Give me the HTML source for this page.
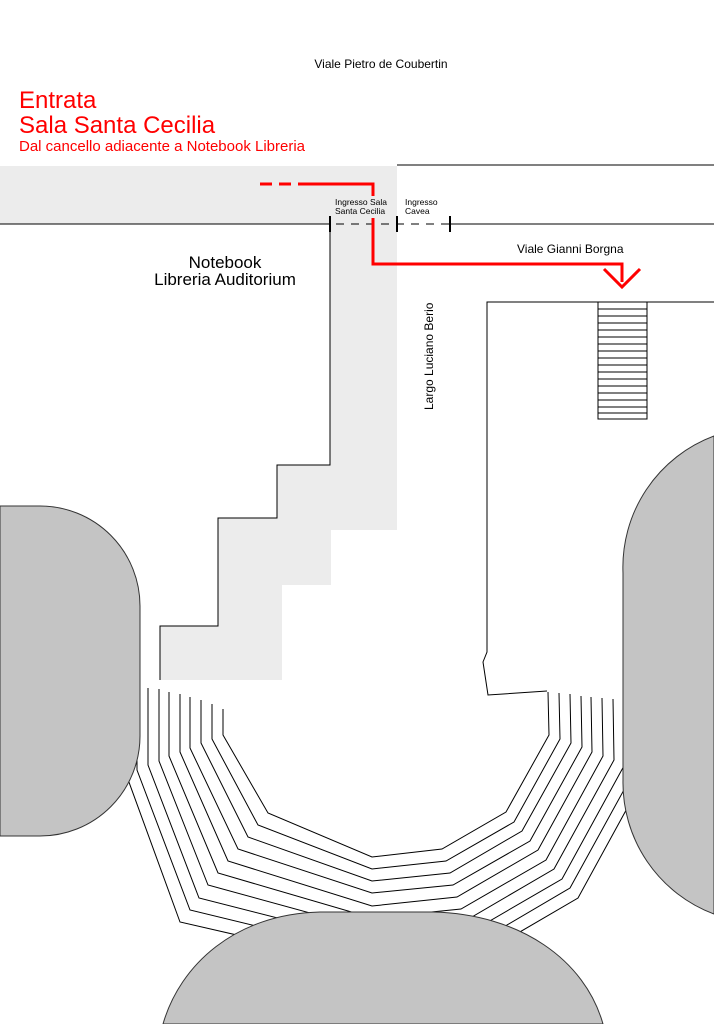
<!DOCTYPE html>
<html><head><meta charset="utf-8"><style>
html,body{margin:0;padding:0;background:#fff;}
svg{display:block;}
text{font-family:"Liberation Sans",sans-serif;}
</style></head><body>
<svg width="714" height="1024" viewBox="0 0 714 1024" xmlns="http://www.w3.org/2000/svg">
<rect x="0" y="166" width="397" height="58" fill="#ececec"/>
<polygon points="330,224 397,224 397,530 331,530 331,585 282,585 282,680 160,680 160,626 218,626 218,518 277,518 277,465 330,465" fill="#ececec"/>
<polyline points="330,224 330,465 277,465 277,518 218,518 218,626 160,626 160,680" fill="none" stroke="#000" stroke-width="1"/>
<line x1="397" y1="165" x2="714" y2="165" stroke="#000" stroke-width="1"/>
<line x1="0" y1="224" x2="330" y2="224" stroke="#000" stroke-width="1"/>
<line x1="450" y1="224" x2="714" y2="224" stroke="#000" stroke-width="1"/>
<line x1="336" y1="224" x2="450" y2="224" stroke="#000" stroke-width="1" stroke-dasharray="8,7"/>
<g stroke="#000" stroke-width="2"><line x1="330" y1="216" x2="330" y2="232"/><line x1="397" y1="216" x2="397" y2="232"/><line x1="450" y1="216" x2="450" y2="232"/></g>
<polyline points="714,302 487,302 487,652 483,662 488,695 547,691" fill="none" stroke="#000" stroke-width="1"/>
<rect x="598" y="302" width="49" height="117" fill="#fff" stroke="#000" stroke-width="1"/>
<g stroke="#000" stroke-width="1">
<line x1="598" y1="309" x2="647" y2="309"/><line x1="598" y1="316" x2="647" y2="316"/><line x1="598" y1="323" x2="647" y2="323"/><line x1="598" y1="330" x2="647" y2="330"/><line x1="598" y1="337" x2="647" y2="337"/><line x1="598" y1="344" x2="647" y2="344"/><line x1="598" y1="351" x2="647" y2="351"/><line x1="598" y1="358" x2="647" y2="358"/><line x1="598" y1="365" x2="647" y2="365"/><line x1="598" y1="372" x2="647" y2="372"/><line x1="598" y1="379" x2="647" y2="379"/><line x1="598" y1="386" x2="647" y2="386"/><line x1="598" y1="393" x2="647" y2="393"/><line x1="598" y1="400" x2="647" y2="400"/><line x1="598" y1="407" x2="647" y2="407"/><line x1="598" y1="413" x2="647" y2="413"/>
</g>
<g fill="none" stroke="#000" stroke-width="1">
<polyline points="223,709 223,735 268,813 372,857 442,849 506,812 549,735 548,692"/>
<polyline points="212,704 212,739 258,825 372,869 446,861 514,822 560,739 559,693"/>
<polyline points="201,700 201,743 248,837 372,881 450,873 522,831 571,743 570,694"/>
<polyline points="190,697 190,748 238,849 372,893 453,885 530,841 582,747 581,696"/>
<polyline points="180,694 180,752 228,861 372,906 457,897 538,850 592,752 591,697"/>
<polyline points="169,692 169,756 218,873 372,918 461,909 546,860 603,756 602,698"/>
<polyline points="159,689 159,761 208,885 372,930 465,921 554,869 614,760 613,699"/>
<polyline points="148,688 148,765 199,898 372,942 469,933 562,879 625,764 624,700"/>
<polyline points="137,690 137,770 190,910 372,954 473,945 570,888 636,768"/>
<polyline points="126,690 126,774 180,922 372,966 477,957 578,898 647,772"/>
</g>
<path d="M0,506 L40,506 A100,100 0 0 1 140,606 L140,736 A100,100 0 0 1 40,836 L0,836 Z" fill="#c4c4c4" stroke="#333" stroke-width="1"/>
<path d="M714,436 A140,140 0 0 0 623,573 L623,780 A140,140 0 0 0 714,914 Z" fill="#c4c4c4" stroke="#333" stroke-width="1"/>
<path d="M163,1024 C180,965 235,914 320,912 L433,912 C520,914 585,960 603,1024 Z" fill="#c4c4c4" stroke="#333" stroke-width="1"/>
<g fill="none" stroke="#ff0000" stroke-width="3">
<line x1="260" y1="184" x2="308" y2="184" stroke-dasharray="12,7"/>
<polyline points="308,184 373,184 373,196"/>
<polyline points="373,218 373,264 622,264 622,282"/>
<polyline points="604,269 622,287 640,269"/>
</g>
<text x="381" y="68" font-size="12" text-anchor="middle" fill="#000">Viale Pietro de Coubertin</text>
<text x="19" y="108" font-size="24" fill="#ff0000">Entrata</text>
<text x="19" y="133" font-size="24" fill="#ff0000">Sala Santa Cecilia</text>
<text x="19" y="151" font-size="15" fill="#ff0000">Dal cancello adiacente a Notebook Libreria</text>
<text x="335" y="205" font-size="8.5" fill="#000">Ingresso Sala</text>
<text x="335" y="214" font-size="8.5" fill="#000">Santa Cecilia</text>
<text x="405" y="205" font-size="8.5" fill="#000">Ingresso</text>
<text x="405" y="214" font-size="8.5" fill="#000">Cavea</text>
<text x="225" y="268" font-size="17" text-anchor="middle" fill="#000">Notebook</text>
<text x="225" y="285" font-size="17" text-anchor="middle" fill="#000">Libreria Auditorium</text>
<text x="517" y="253" font-size="12" fill="#000">Viale Gianni Borgna</text>
<text transform="translate(433,410) rotate(-90)" font-size="12" fill="#000">Largo Luciano Berio</text>
</svg>
</body></html>
